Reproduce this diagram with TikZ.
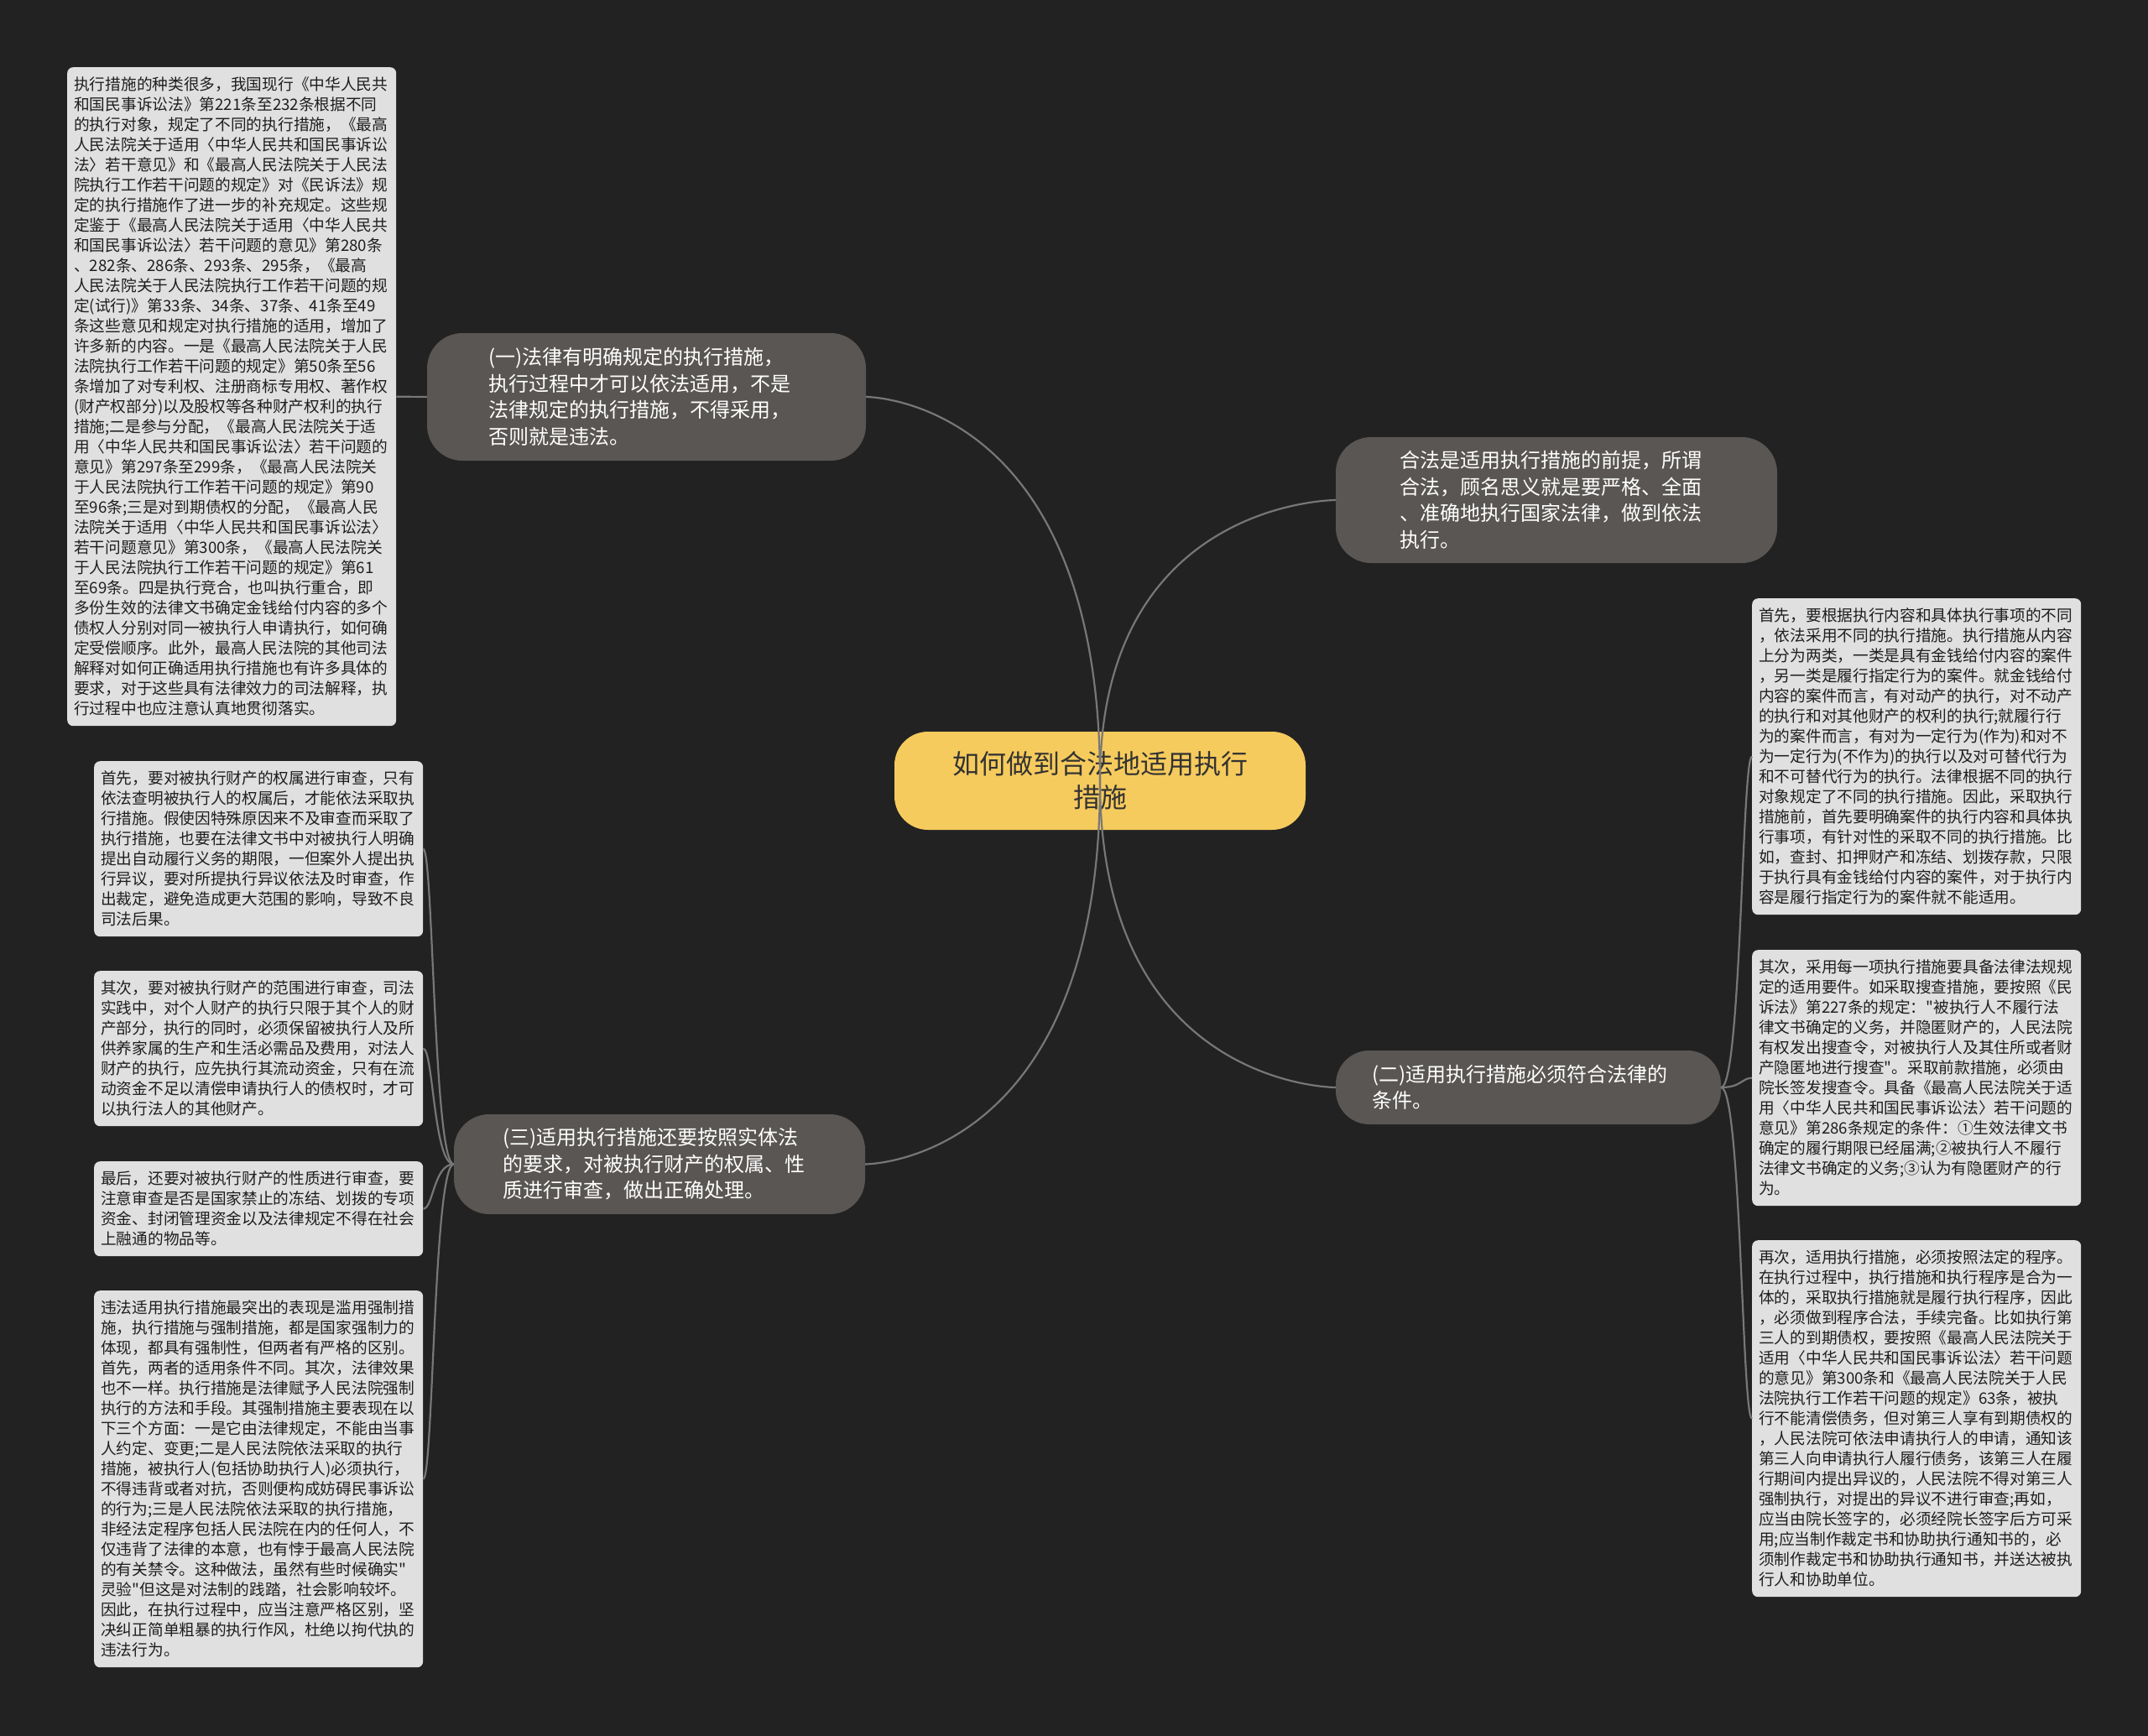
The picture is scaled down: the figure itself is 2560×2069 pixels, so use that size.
\documentclass[tikz,border=0pt]{standalone}
\usepackage{fontspec}
\setmainfont{Noto Sans CJK SC}[Ligatures=TeXOff]
\usetikzlibrary{calc}
\definecolor{bgc}{HTML}{222222}
\definecolor{rootfill}{HTML}{F6CB5D}
\definecolor{roottext}{HTML}{333333}
\definecolor{branchfill}{HTML}{595653}
\definecolor{leaffill}{HTML}{E0E0E0}
\definecolor{leaftext}{HTML}{1E1E1E}
\definecolor{conncolor}{HTML}{777777}
\begin{document}
\begin{tikzpicture}[x=1pt,y=-1pt,
  rootbox/.style={fill=rootfill, text=roottext, rounded corners=40pt, align=center,
    font=\fontsize{32}{40}\selectfont, inner sep=0pt},
  branchbox/.style={fill=branchfill, text=white, rounded corners=42pt, align=left,
    font=\fontsize{24}{31.5}\selectfont, inner ysep=0pt},
  leafbox/.style={fill=leaffill, text=leaftext, rounded corners=7pt, align=left,
    font=\fontsize{18.7}{24}\selectfont, text width=376pt, inner xsep=8pt,
    inner ysep=0pt, anchor=north west},
  conn/.style={draw=conncolor, line width=2.2pt}]
\fill[bgc] (0,0) rectangle (2560,2069);
\useasboundingbox (0,0) rectangle (2560,2069);

% root
\node[rootbox, minimum width=490pt, minimum height=117pt] (root) at (1311,930.5)
  {如何做到合法地适用执行\\措施};

% branches
\node[branchbox, text width=377pt, inner xsep=73pt, minimum height=152pt] (b1) at (770.5,473)
  {(一)法律有明确规定的执行措施，\\执行过程中才可以依法适用，不是\\法律规定的执行措施，不得采用，\\否则就是违法。};
\node[branchbox, text width=374pt, inner xsep=76pt, minimum height=150pt] (b0) at (1855,596)
  {合法是适用执行措施的前提，所谓\\合法，顾名思义就是要严格、全面\\、准确地执行国家法律，做到依法\\执行。};
\node[branchbox, text width=373pt, inner xsep=43pt, minimum height=88pt, rounded corners=40pt] (b2) at (1821.5,1296)
  {(二)适用执行措施必须符合法律的\\条件。};
\node[branchbox, text width=374pt, inner xsep=58pt, minimum height=119pt] (b3) at (786,1387.5)
  {(三)适用执行措施还要按照实体法\\的要求，对被执行财产的权属、性\\质进行审查，做出正确处理。};

% leaves of (一)
\node[leafbox, minimum height=785pt] (l1) at (80,80)
  {执行措施的种类很多，我国现行《中华人民共\\和国民事诉讼法》第221条至232条根据不同\\的执行对象，规定了不同的执行措施，《最高\\人民法院关于适用〈中华人民共和国民事诉讼\\法〉若干意见》和《最高人民法院关于人民法\\院执行工作若干问题的规定》对《民诉法》规\\定的执行措施作了进一步的补充规定。这些规\\定鉴于《最高人民法院关于适用〈中华人民共\\和国民事诉讼法〉若干问题的意见》第280条\\、282条、286条、293条、295条，《最高\\人民法院关于人民法院执行工作若干问题的规\\定(试行)》第33条、34条、37条、41条至49\\条这些意见和规定对执行措施的适用，增加了\\许多新的内容。一是《最高人民法院关于人民\\法院执行工作若干问题的规定》第50条至56\\条增加了对专利权、注册商标专用权、著作权\\(财产权部分)以及股权等各种财产权利的执行\\措施;二是参与分配，《最高人民法院关于适\\用〈中华人民共和国民事诉讼法〉若干问题的\\意见》第297条至299条，《最高人民法院关\\于人民法院执行工作若干问题的规定》第90\\至96条;三是对到期债权的分配，《最高人民\\法院关于适用〈中华人民共和国民事诉讼法〉\\若干问题意见》第300条，《最高人民法院关\\于人民法院执行工作若干问题的规定》第61\\至69条。四是执行竞合，也叫执行重合，即\\多份生效的法律文书确定金钱给付内容的多个\\债权人分别对同一被执行人申请执行，如何确\\定受偿顺序。此外，最高人民法院的其他司法\\解释对如何正确适用执行措施也有许多具体的\\要求，对于这些具有法律效力的司法解释，执\\行过程中也应注意认真地贯彻落实。};

% leaves of (三)
\node[leafbox, minimum height=209pt] (l2) at (112,907)
  {首先，要对被执行财产的权属进行审查，只有\\依法查明被执行人的权属后，才能依法采取执\\行措施。假使因特殊原因来不及审查而采取了\\执行措施，也要在法律文书中对被执行人明确\\提出自动履行义务的期限，一但案外人提出执\\行异议，要对所提执行异议依法及时审查，作\\出裁定，避免造成更大范围的影响，导致不良\\司法后果。};
\node[leafbox, minimum height=185pt] (l3) at (112,1157)
  {其次，要对被执行财产的范围进行审查，司法\\实践中，对个人财产的执行只限于其个人的财\\产部分，执行的同时，必须保留被执行人及所\\供养家属的生产和生活必需品及费用，对法人\\财产的执行，应先执行其流动资金，只有在流\\动资金不足以清偿申请执行人的债权时，才可\\以执行法人的其他财产。};
\node[leafbox, minimum height=113pt] (l4) at (112,1384)
  {最后，还要对被执行财产的性质进行审查，要\\注意审查是否是国家禁止的冻结、划拨的专项\\资金、封闭管理资金以及法律规定不得在社会\\上融通的物品等。};
\node[leafbox, minimum height=449pt] (l5) at (112,1538)
  {违法适用执行措施最突出的表现是滥用强制措\\施，执行措施与强制措施，都是国家强制力的\\体现，都具有强制性，但两者有严格的区别。\\首先，两者的适用条件不同。其次，法律效果\\也不一样。执行措施是法律赋予人民法院强制\\执行的方法和手段。其强制措施主要表现在以\\下三个方面：一是它由法律规定，不能由当事\\人约定、变更;二是人民法院依法采取的执行\\措施，被执行人(包括协助执行人)必须执行，\\不得违背或者对抗，否则便构成妨碍民事诉讼\\的行为;三是人民法院依法采取的执行措施，\\非经法定程序包括人民法院在内的任何人，不\\仅违背了法律的本意，也有悖于最高人民法院\\的有关禁令。这种做法，虽然有些时候确实"\\灵验"但这是对法制的践踏，社会影响较坏。\\因此，在执行过程中，应当注意严格区别，坚\\决纠正简单粗暴的执行作风，杜绝以拘代执的\\违法行为。};

% leaves of (二)
\node[leafbox, minimum height=377pt] (r1) at (2088,713)
  {首先，要根据执行内容和具体执行事项的不同\\，依法采用不同的执行措施。执行措施从内容\\上分为两类，一类是具有金钱给付内容的案件\\，另一类是履行指定行为的案件。就金钱给付\\内容的案件而言，有对动产的执行，对不动产\\的执行和对其他财产的权利的执行;就履行行\\为的案件而言，有对为一定行为(作为)和对不\\为一定行为(不作为)的执行以及对可替代行为\\和不可替代行为的执行。法律根据不同的执行\\对象规定了不同的执行措施。因此，采取执行\\措施前，首先要明确案件的执行内容和具体执\\行事项，有针对性的采取不同的执行措施。比\\如，查封、扣押财产和冻结、划拨存款，只限\\于执行具有金钱给付内容的案件，对于执行内\\容是履行指定行为的案件就不能适用。};
\node[leafbox, minimum height=305pt] (r2) at (2088,1132)
  {其次，采用每一项执行措施要具备法律法规规\\定的适用要件。如采取搜查措施，要按照《民\\诉法》第227条的规定："被执行人不履行法\\律文书确定的义务，并隐匿财产的，人民法院\\有权发出搜查令，对被执行人及其住所或者财\\产隐匿地进行搜查"。采取前款措施，必须由\\院长签发搜查令。具备《最高人民法院关于适\\用〈中华人民共和国民事诉讼法〉若干问题的\\意见》第286条规定的条件：①生效法律文书\\确定的履行期限已经届满;②被执行人不履行\\法律文书确定的义务;③认为有隐匿财产的行\\为。};
\node[leafbox, minimum height=425pt] (r3) at (2088,1478)
  {再次，适用执行措施，必须按照法定的程序。\\在执行过程中，执行措施和执行程序是合为一\\体的，采取执行措施就是履行执行程序，因此\\，必须做到程序合法，手续完备。比如执行第\\三人的到期债权，要按照《最高人民法院关于\\适用〈中华人民共和国民事诉讼法〉若干问题\\的意见》第300条和《最高人民法院关于人民\\法院执行工作若干问题的规定》63条，被执\\行不能清偿债务，但对第三人享有到期债权的\\，人民法院可依法申请执行人的申请，通知该\\第三人向申请执行人履行债务，该第三人在履\\行期间内提出异议的，人民法院不得对第三人\\强制执行，对提出的异议不进行审查;再如，\\应当由院长签字的，必须经院长签字后方可采\\用;应当制作裁定书和协助执行通知书的，必\\须制作裁定书和协助执行通知书，并送达被执\\行人和协助单位。};

% connectors root -> branches
\foreach \b/\a in {b1/east, b3/east, b0/west, b2/west}{
  \draw[conn] (root.center) .. controls (root.center |- \b.\a) and (\b.\a) .. (\b.\a);
}
% (一) -> leaf
\draw[conn] (b1.west) .. controls ($(b1.west)+(-18,0)$) and ($(l1.east)+(18,0)$) .. (l1.east);
% (三) -> leaves
\foreach \l in {l2,l3,l4,l5}{
  \draw[conn] (b3.west) .. controls ($(b3.west)+(-24,0)$) and ($(\l.east)+(12,0)$) .. (\l.east);
}
% (二) -> leaves
\foreach \l in {r1,r2,r3}{
  \draw[conn] (b2.east) .. controls ($(b2.east)+(24,0)$) and ($(\l.west)+(-12,0)$) .. (\l.west);
}
\end{tikzpicture}
\end{document}
